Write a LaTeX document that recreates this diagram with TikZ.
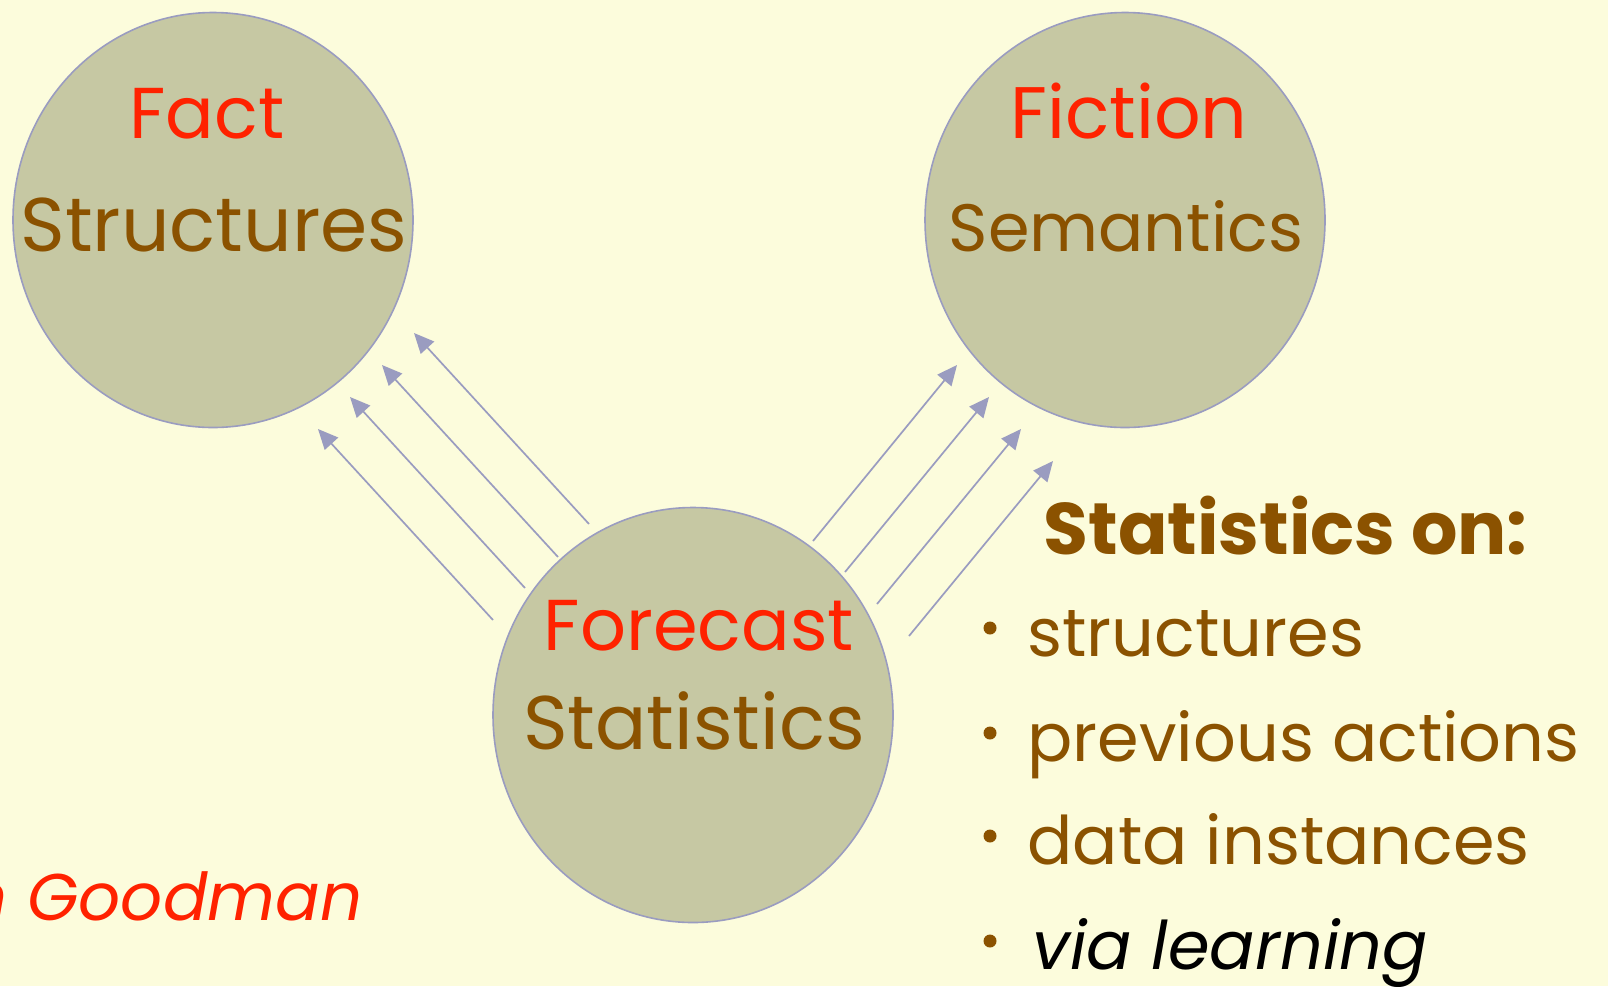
\documentclass[tikz,border=0pt]{standalone}
\usepackage{fontspec}
\setmainfont{Poppins}
\usetikzlibrary{arrows.meta,shapes.geometric}
\definecolor{bg}{HTML}{FCFCDC}
\definecolor{ball}{HTML}{C6C8A3}
\definecolor{rim}{HTML}{9A9CC0}
\definecolor{redtxt}{HTML}{FF2200}
\definecolor{browntxt}{HTML}{8B5200}
\newcommand{\fsz}[1]{\fontsize{#1}{#1}\selectfont}
\tikzset{
  ballnode/.style={ellipse, fill=ball, draw=rim, line width=1.6pt, minimum width=400pt, minimum height=415pt, inner sep=0pt},
  head/.style={text=redtxt, anchor=base, font=\fsz{72}},
  sub/.style={text=browntxt, anchor=base, font=\fsz{76}},
  item/.style={text=browntxt, anchor=base west, font=\fsz{67}},
  flow/.style={draw=rim, line width=1.7pt, -{Triangle[length=20pt,width=18pt]}},
}
\begin{document}
\begin{tikzpicture}[x=1pt,y=-1pt]
\fill[bg] (0,0) rectangle (1608,986);
\useasboundingbox (0,0) rectangle (1608,986);
\node[ballnode] (fact) at (213,220) {};
\node[ballnode] (fiction) at (1125,220) {};
\node[ballnode] (forecast) at (693,715) {};
\node[head] (factt) at (207,138) {Fact};
\node[sub] (structt) at (214,251) {Structures};
\node[head, font=\fsz{73}] (fictiont) at (1129,138) {Fiction};
\node[sub, font=\fsz{67}] (semt) at (1126,251) {Semantics};
\node[head] (foret) at (699,650) {Forecast};
\node[sub, font=\fsz{76}] (statt) at (694,749) {Statistics};
% left arrows
\coordinate (la1) at (589,524); \coordinate (lb1) at (414,333);
\coordinate (la2) at (558,557); \coordinate (lb2) at (382,365);
\coordinate (la3) at (525,588); \coordinate (lb3) at (350,397);
\coordinate (la4) at (493,620); \coordinate (lb4) at (318,429);
\foreach \i in {1,...,4} \draw[flow] (la\i) -- (lb\i);
% right arrows
\coordinate (ra1) at (813,541); \coordinate (rb1) at (957,365);
\coordinate (ra2) at (845,572); \coordinate (rb2) at (989,397);
\coordinate (ra3) at (877,604); \coordinate (rb3) at (1021,429);
\coordinate (ra4) at (909,636); \coordinate (rb4) at (1053,461);
\foreach \i in {1,...,4} \draw[flow] (ra\i) -- (rb\i);
% list
\node[text=browntxt, anchor=base west, font=\fsz{73}\bfseries] (son) at (1040,554) {Statistics on:};
\node[item] (i1) at (1024,656) {structures};
\node[item] (i2) at (1024,761) {previous actions};
\node[item] (i3) at (1024,864) {data instances};
\node[item, text=black, font=\fsz{67}\itshape] (i4) at (1029,969) {via learning};
\foreach \y in {628,733,836,941} \fill[browntxt] (990,\y) circle (6.5pt);
\node[text=redtxt, anchor=base east, font=\fsz{66}\itshape] (goodman) at (366,920) {n Goodman};
\end{tikzpicture}
\end{document}
